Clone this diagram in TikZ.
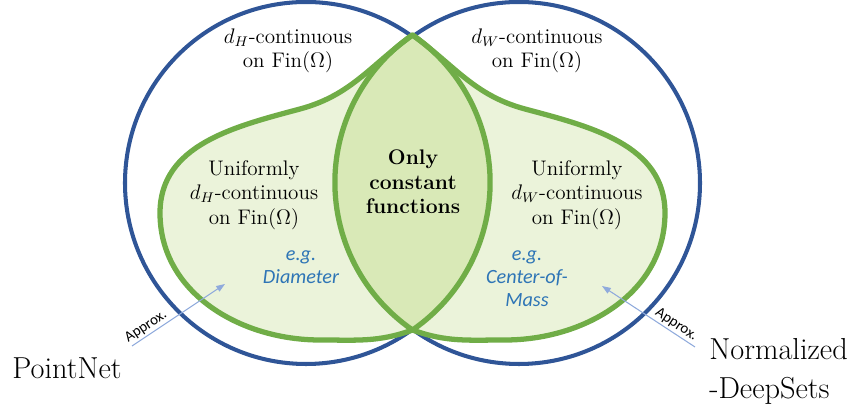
\documentclass[tikz,border=0pt]{standalone}
\usepackage{amsmath}
\usepackage{fontspec}
\newfontfamily\calib{Carlito}
\usetikzlibrary{arrows.meta,calc}

\definecolor{vennblue}{HTML}{2F5597}
\definecolor{venngreen}{HTML}{70AD47}
\definecolor{lightfill}{HTML}{EBF3DA}
\definecolor{lensfill}{HTML}{D9E9B7}
\definecolor{egblue}{HTML}{2E75B6}
\definecolor{arrowblue}{HTML}{8FAADC}

% outlines of the two green regions
\newcommand{\leftblob}{(T) to[out=216,in=15] (300,299) to[out=195,in=90] (160,195)
    to[out=270,in=180] (320,68) to[out=0,in=200] (B)
    arc[start angle=-55.5, end angle=55.5, radius=179] -- cycle}
\newcommand{\rightblob}{(T) to[out=-36,in=165] (525,299) to[out=-15,in=90] (665,195)
    to[out=270,in=0] (505,68) to[out=180,in=-20] (B)
    arc[start angle=235.5, end angle=124.5, radius=179] -- cycle}

\begin{document}
\begin{tikzpicture}[x=0.02cm, y=0.02cm,
    ring/.style={draw=vennblue, line width=2.3pt},
    rim/.style={draw=venngreen, line width=3pt, line join=round},
    setlbl/.style={align=center, font=\large, inner sep=0pt},
    eglbl/.style={align=center, text=egblue, inner sep=0pt,
        font=\calib\itshape\fontsize{11.5}{13}\selectfont},
    approxarrow/.style={draw=arrowblue, line width=0.6pt, -{Triangle[length=5pt,width=3.6pt]}},
    approxlbl/.style={font=\calib\fontsize{8.5}{10}\selectfont, inner sep=1pt}]
    \useasboundingbox (0,0) rectangle (860,408);

    \coordinate (L) at (306,225);
    \coordinate (R) at (519,225);
    \coordinate (T) at (412.5,373);
    \coordinate (B) at (412.5,78);

    % blue circles
    \draw[ring] (L) circle (181);
    \draw[ring] (R) circle (181);

    % green regions
    \fill[lightfill] \leftblob;
    \fill[lightfill] \rightblob;
    \fill[lensfill] (T) arc[start angle=124.5, end angle=235.5, radius=179]
        arc[start angle=-55.5, end angle=55.5, radius=179] -- cycle;
    \draw[rim] \leftblob;
    \draw[rim] \rightblob;

    \node[setlbl] (hcont) at (288,357) {$d_H$-continuous\\on $\mathrm{Fin}(\Omega)$};
    \node[setlbl] (wcont) at (537,357) {$d_W$-continuous\\on $\mathrm{Fin}(\Omega)$};
    \node[setlbl] (hunif) at (254,213) {Uniformly\\$d_H$-continuous\\on $\mathrm{Fin}(\Omega)$};
    \node[setlbl] (wunif) at (577,213) {Uniformly\\$d_W$-continuous\\on $\mathrm{Fin}(\Omega)$};
    \node[setlbl, font=\large\bfseries] (const) at (413,226) {Only\\constant\\functions};

    \node[eglbl] (diam) at (301,141) {e.g.\\Diameter};
    \node[eglbl] (mass) at (527,129) {e.g.\\Center-of-\\Mass};

    \node[font=\LARGE, anchor=base west, inner sep=0pt] (pointnet) at (12,29) {PointNet};
    \node[font=\LARGE, anchor=north west, align=left, inner sep=0pt] (nds) at (709,70) {Normalized\\-DeepSets};

    % approximation arrows
    \coordinate (pnTail) at (132,62);
    \coordinate (pnHead) at (225,124);
    \coordinate (ndsTail) at (695,61);
    \coordinate (ndsHead) at (602,122);
    \draw[approxarrow] (pnTail) -- node[approxlbl, pos=0.2, above, sloped] (pnlbl) {Approx.} (pnHead);
    \draw[approxarrow] (ndsTail) -- node[approxlbl, pos=0.25, above, sloped] (ndslbl) {Approx.} (ndsHead);
\end{tikzpicture}
\end{document}
